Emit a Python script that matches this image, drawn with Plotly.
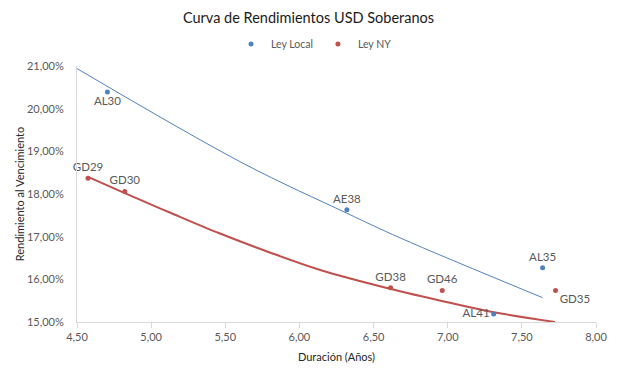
import plotly.graph_objects as go

# Data
local_names = ["AL30", "AE38", "AL41", "AL35"]
local_dur = [4.705, 6.32, 7.31, 7.64]
local_ytm = [20.39, 17.63, 15.19, 16.27]

ny_names = ["GD29", "GD30", "GD38", "GD46", "GD35"]
ny_dur = [4.574, 4.822, 6.615, 6.963, 7.727]
ny_ytm = [18.37, 18.06, 15.80, 15.74, 15.74]

# Trend curves
local_trend_x = [4.50, 5.62, 6.32, 6.68, 7.64]
local_trend_y = [20.94, 18.72, 17.55, 16.97, 15.57]
ny_trend_x = [4.574, 4.822, 5.13, 5.46, 5.80, 6.14, 6.61, 6.99, 7.31, 7.723]
ny_trend_y = [18.40, 18.02, 17.56, 17.08, 16.63, 16.22, 15.78, 15.47, 15.23, 15.00]

x_ticks = [4.5, 5.0, 5.5, 6.0, 6.5, 7.0, 7.5, 8.0]
x_tick_labels = ["4,50", "5,00", "5,50", "6,00", "6,50", "7,00", "7,50", "8,00"]
y_ticks = [15, 16, 17, 18, 19, 20, 21]
y_tick_labels = ["15,00%", "16,00%", "17,00%", "18,00%", "19,00%", "20,00%", "21,00%"]

BLUE = "#4F81BD"
RED = "#C0504D"
FONT = "Lato"
GRAY = "#595959"

# The page body adds an 8px offset, so the figure is 8px smaller than the window
W, H = 609, 367
OFF = 8

local_pos = ["bottom center", "top center", "middle left", "top center"]
ny_pos = ["top center", "top center", "top center", "top center", "bottom right"]

fig = go.Figure()
fig.add_trace(go.Scatter(x=local_trend_x, y=local_trend_y, mode="lines",
                         line=dict(color=BLUE, width=1, shape="spline"),
                         showlegend=False, hoverinfo="skip"))
fig.add_trace(go.Scatter(x=ny_trend_x, y=ny_trend_y, mode="lines",
                         line=dict(color=RED, width=2, shape="spline"),
                         showlegend=False, hoverinfo="skip"))
fig.add_trace(go.Scatter(x=local_dur, y=local_ytm, mode="markers+text", name="Ley Local",
                         text=local_names, textposition=local_pos, cliponaxis=False,
                         textfont=dict(family=FONT, size=11.5, color=GRAY),
                         marker=dict(color=BLUE, size=5)))
fig.add_trace(go.Scatter(x=ny_dur, y=ny_ytm, mode="markers+text", name="Ley NY",
                         text=ny_names, textposition=ny_pos, cliponaxis=False,
                         textfont=dict(family=FONT, size=11.5, color=GRAY),
                         marker=dict(color=RED, size=5)))

fig.update_layout(
    width=W, height=H,
    margin=dict(l=77 - OFF, r=21, t=66 - OFF, b=53),
    paper_bgcolor="white", plot_bgcolor="white",
    font=dict(family=FONT, color=GRAY, size=11),
    title=dict(text="Curva de Rendimientos USD Soberanos", xref="container",
               x=(308.5 - OFF) / W, xanchor="center",
               yref="container", y=1 - (18 - OFF) / H, yanchor="middle",
               font=dict(family=FONT, size=14.5, color="#1a1a1a")),
    legend=dict(orientation="h", xref="container", x=(314 - OFF) / W, xanchor="center",
                yref="container", y=1 - (44 - OFF) / H, yanchor="middle",
                font=dict(family=FONT, size=10.5, color=GRAY), itemwidth=30,
                bgcolor="rgba(0,0,0,0)"),
    xaxis=dict(range=[4.5, 8.0], tickvals=x_ticks, ticktext=x_tick_labels,
               automargin=False,
               showgrid=False, zeroline=False, showline=True, linecolor="#D9D9D9",
               linewidth=1, ticks="outside", ticklen=5, tickcolor="#D9D9D9",
               tickfont=dict(family=FONT, size=11, color=GRAY),
               title=dict(text="Duración (Años)", standoff=11,
                          font=dict(family=FONT, size=11, color="#262626"))),
    yaxis=dict(range=[15, 21], tickvals=y_ticks, ticktext=y_tick_labels,
               automargin=False,
               showgrid=False, zeroline=False, showline=True, linecolor="#D9D9D9",
               linewidth=1, ticks="outside", ticklen=10, tickcolor="rgba(0,0,0,0)",
               tickfont=dict(family=FONT, size=11, color=GRAY),
               title=dict(text="Rendimiento al Vencimiento", standoff=0,
                          font=dict(family=FONT, size=11, color="#262626"))),
)

fig.write_html("out.html")
